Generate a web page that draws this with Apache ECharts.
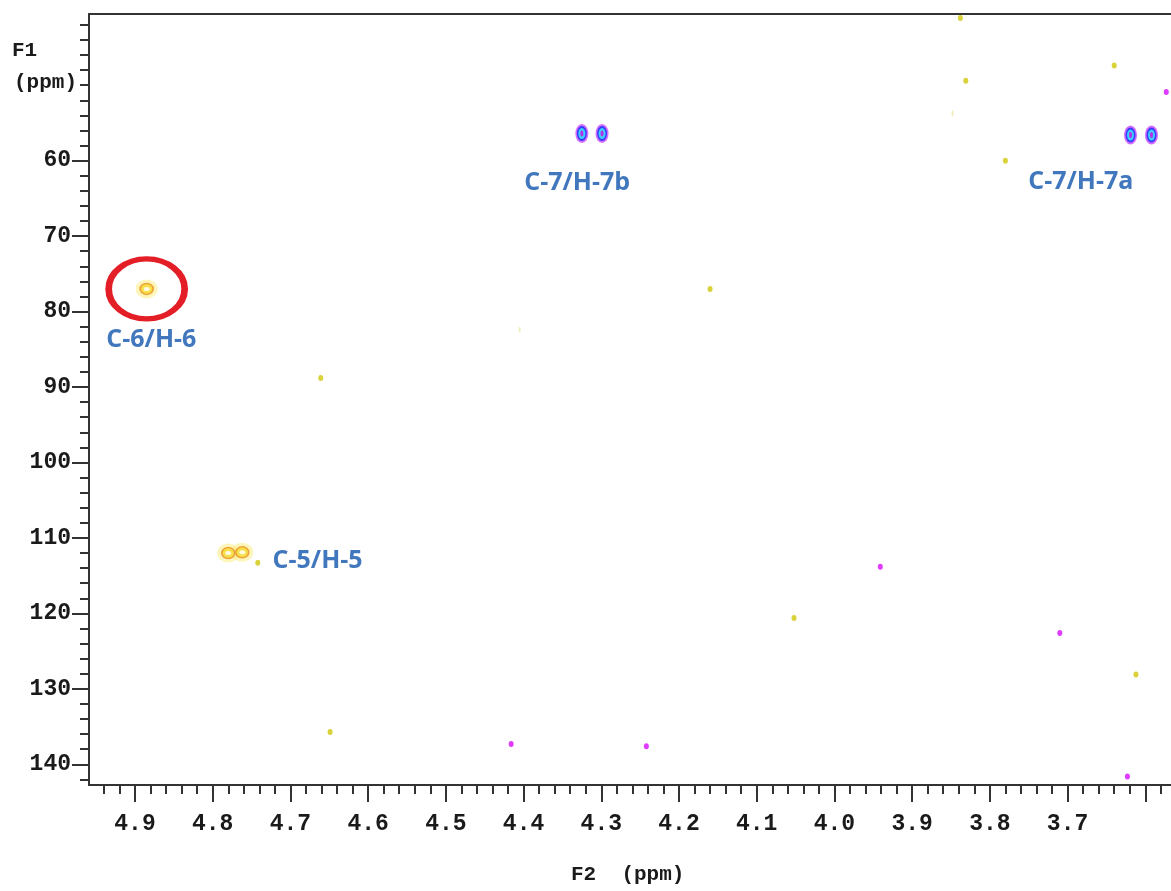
<!DOCTYPE html>
<html>
<head>
<meta charset="utf-8">
<title>HSQC F2/F1</title>
<script src="https://cdn.jsdelivr.net/npm/echarts@6.0.0/dist/echarts.min.js"></script>
<style>
  html, body { margin: 0; padding: 0; background: #fff; }
  #main { width: 1171px; height: 891px; }
</style>
</head>
<body>
<div id="main"></div>
<script>
// cross peaks, F2 = 1H shift (ppm), F1 = 13C shift (ppm)
const blueF2 = [4.325, 4.299, 3.619, 3.592]
const blueF1 = [56.4, 56.4, 56.6, 56.6]
const yellowF2 = [4.885, 4.780, 4.762]
const yellowF1 = [77.0, 112.0, 111.9]

// weak spots / noise
const noiseYellowF2 = [3.838, 3.831, 3.640, 3.780, 4.160, 4.661, 4.742, 4.052, 3.612, 4.649]
const noiseYellowF1 = [41.1, 49.4, 47.4, 60.0, 77.0, 88.8, 113.3, 120.6, 128.1, 135.7]
const faintF2 = [3.848, 4.405]
const faintF1 = [53.7, 82.4]
const noiseMagentaF2 = [3.573, 3.941, 3.710, 4.416, 4.242, 3.623]
const noiseMagentaF1 = [50.9, 113.8, 122.6, 137.3, 137.6, 141.6]

// assignments
const labelNames = ['C-7/H-7b', 'C-7/H-7a', 'C-6/H-6', 'C-5/H-5']
const labelF2 = [4.331, 3.683, 4.879, 4.665]
const labelF1 = [63.0, 62.8, 83.8, 113.1]

// axis ticks / labels
const xTicks = [4.9, 4.8, 4.7, 4.6, 4.5, 4.4, 4.3, 4.2, 4.1, 4.0, 3.9, 3.8, 3.7, 3.6]
const xLabels = [4.9, 4.8, 4.7, 4.6, 4.5, 4.4, 4.3, 4.2, 4.1, 4.0, 3.9, 3.8, 3.7]
const yTicks = [60, 70, 80, 90, 100, 110, 120, 130, 140]
const yExtraMinor = [50]

const pts = (xs, ys) => xs.map((x, i) => [x, ys[i]])

const axisColor = '#333'
const monoFont = '"Liberation Mono", "DejaVu Sans Mono", monospace'

function layer(data, size, itemStyle) {
  return {
    type: 'scatter',
    silent: true,
    symbol: 'circle',
    symbolSize: size,
    data: data,
    itemStyle: Object.assign({ opacity: 1 }, itemStyle)
  }
}

const chart = echarts.init(document.getElementById('main'))

chart.setOption({
  animation: false,
  backgroundColor: '#fff',
  grid: {
    left: 89,
    top: 14,
    right: -52,
    bottom: 106,
    containLabel: false,
    outerBoundsMode: 'none'
  },
  xAxis: [{
    type: 'value',
    inverse: true,
    min: 3.5,
    max: 4.9592,
    splitNumber: 14,
    position: 'bottom',
    axisLine: { lineStyle: { color: axisColor, width: 2 } },
    axisTick: {
      customValues: xTicks,
      length: 17,
      lineStyle: { color: axisColor, width: 2 }
    },
    minorTick: {
      show: true,
      splitNumber: 5,
      length: 9,
      lineStyle: { color: axisColor, width: 2 }
    },
    axisLabel: {
      customValues: xLabels,
      margin: 28,
      color: '#1a1a1a',
      fontFamily: monoFont,
      fontWeight: 'bold',
      fontSize: 23,
      formatter: v => v.toFixed(1)
    },
    splitLine: { show: false }
  }, {
    // top frame line
    type: 'value',
    inverse: true,
    min: 3.5,
    max: 4.9592,
    position: 'top',
    axisLine: { show: true, lineStyle: { color: axisColor, width: 2 } },
    axisTick: { show: false },
    axisLabel: { show: false },
    splitLine: { show: false }
  }],
  yAxis: [{
    type: 'value',
    inverse: true,
    min: 40.56,
    max: 142.74,
    splitNumber: 10,
    position: 'left',
    axisLine: { show: true, lineStyle: { color: axisColor, width: 2 } },
    axisTick: {
      show: true,
      customValues: yTicks,
      length: 17,
      lineStyle: { color: axisColor, width: 2 }
    },
    minorTick: {
      show: true,
      splitNumber: 5,
      length: 9,
      lineStyle: { color: axisColor, width: 2 }
    },
    axisLabel: {
      customValues: yTicks,
      margin: 18,
      color: '#1a1a1a',
      fontFamily: monoFont,
      fontWeight: 'bold',
      fontSize: 23
    },
    splitLine: { show: false }
  }, {
    // short tick at 50 where the label is left out
    type: 'value',
    inverse: true,
    min: 40.56,
    max: 142.74,
    position: 'left',
    axisLine: { show: false },
    axisTick: {
      show: true,
      customValues: yExtraMinor,
      length: 9,
      lineStyle: { color: axisColor, width: 2 }
    },
    axisLabel: { show: false },
    splitLine: { show: false }
  }],
  graphic: [{
    type: 'text',
    left: 12,
    top: 40,
    style: { text: 'F1', fill: '#1a1a1a', font: 'bold 21px ' + monoFont }
  }, {
    type: 'text',
    left: 14,
    top: 72,
    style: { text: '(ppm)', fill: '#1a1a1a', font: 'bold 21px ' + monoFont }
  }, {
    type: 'text',
    left: 571,
    top: 864,
    style: { text: 'F2  (ppm)', fill: '#1a1a1a', font: 'bold 21px ' + monoFont }
  }],
  series: [
    // noise
    layer(pts(faintF2, faintF1), [2, 6], { color: 'rgba(225,220,120,0.5)' }),
    layer(pts(noiseYellowF2, noiseYellowF1), [5, 6], { color: '#d9d23a' }),
    layer(pts(noiseMagentaF2, noiseMagentaF1), [5, 6], { color: '#df3cff' }),

    // yellow (negative) contours
    layer(pts(yellowF2, yellowF1), [22, 19], { color: 'rgba(252,236,130,0.55)' }),
    layer(pts(yellowF2, yellowF1), [13, 11], { color: '#f6e04a', borderColor: '#eea23a', borderWidth: 1.5 }),
    layer(pts(yellowF2, yellowF1), [6, 4], { color: '#fffbe0' }),

    // blue (positive) contours
    layer(pts(blueF2, blueF1), [13, 19], { color: '#d46cff' }),
    layer(pts(blueF2, blueF1), [10, 15], { color: '#3b3bff' }),
    layer(pts(blueF2, blueF1), [7, 11], { color: '#3ccfff' }),
    layer(pts(blueF2, blueF1), [3, 6], { color: '#b62ee6' }),

    // circled peak
    layer([[yellowF2[0], yellowF1[0]]], [76, 60], {
      color: 'rgba(0,0,0,0)', borderColor: '#e41e26', borderWidth: 6
    }),

    // assignment labels
    {
      type: 'scatter',
      silent: true,
      symbolSize: 1,
      itemStyle: { color: 'rgba(0,0,0,0)', opacity: 1 },
      label: {
        show: true,
        position: 'inside',
        formatter: '{b}',
        color: '#4177bd',
        opacity: 1,
        fontFamily: '"Open Sans", "Noto Sans", sans-serif',
        fontWeight: 'bold',
        fontSize: 25
      },
      data: labelNames.map((n, i) => ({ name: n, value: [labelF2[i], labelF1[i]] }))
    }
  ]
})
</script>
</body>
</html>
